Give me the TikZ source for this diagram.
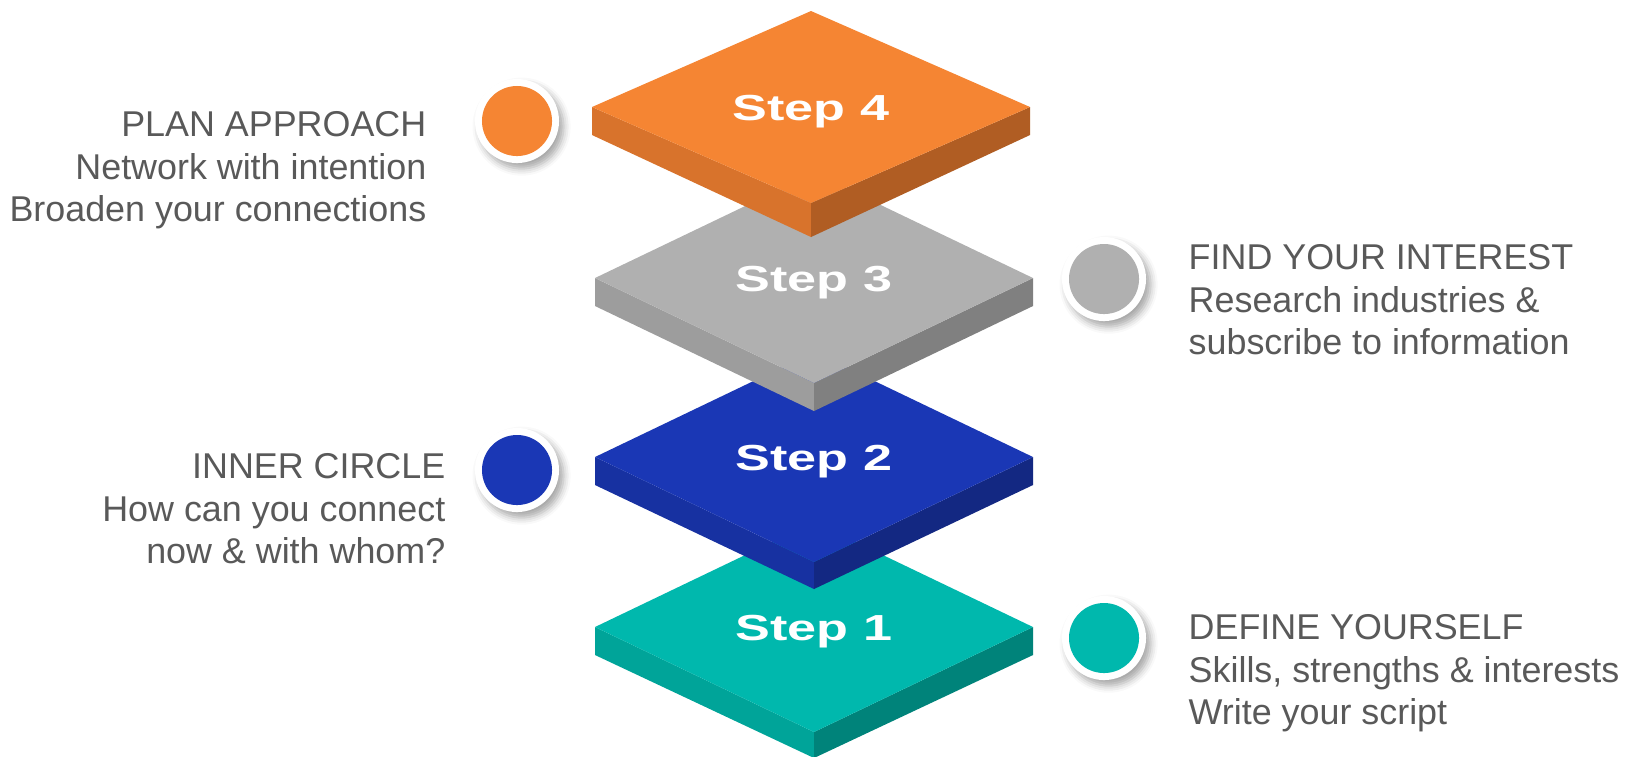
\documentclass[tikz,border=0pt]{standalone}
\usepackage{fontspec}
\setmainfont{Liberation Sans}
\usepackage{graphicx}
\usepackage{xcolor}
\usetikzlibrary{positioning, shadows.blur}

\definecolor{top1}{HTML}{00B8AD}
\definecolor{left1}{HTML}{00A499}
\definecolor{right1}{HTML}{00837A}
\definecolor{top2}{HTML}{1A37B5}
\definecolor{left2}{HTML}{1731A1}
\definecolor{right2}{HTML}{132882}
\definecolor{top3}{HTML}{B0B0B0}
\definecolor{left3}{HTML}{9D9D9D}
\definecolor{right3}{HTML}{808080}
\definecolor{top4}{HTML}{F58533}
\definecolor{left4}{HTML}{D8732C}
\definecolor{right4}{HTML}{B05D23}
\definecolor{textgray}{HTML}{595959}

\tikzset{
    ring/.style={circle, fill=white, minimum size=0.84cm, inner sep=0,
        blur shadow={shadow xshift=1.3pt, shadow yshift=-1.6pt, shadow blur radius=2pt, shadow opacity=35}},
    dot/.style={circle, minimum size=0.7cm, inner sep=0},
    steplabel/.style={text=white, font=\fontsize{10.3}{12}\selectfont\bfseries, inner sep=0, anchor=base},
    infotext/.style={text=textgray, font=\fontsize{10.2}{12.1}\selectfont, inner sep=0}
}

\begin{document}
\begin{tikzpicture}[x=0.01cm, y=-0.01cm]
        \useasboundingbox (0, 0) rectangle (1634, 756);

        \foreach \n/\cx/\cy/\h/\f in {1/814/627/105/26, 2/814/457/105/27, 3/814/278/105/28, 4/811/107/96/34} {
            \fill[left\n] (\cx-219, \cy) -- (\cx, \cy+\h) -- (\cx, \cy+\h+\f) -- (\cx-219, \cy+28) -- cycle;
            \fill[right\n] (\cx+219, \cy) -- (\cx, \cy+\h) -- (\cx, \cy+\h+\f) -- (\cx+219, \cy+28) -- cycle;
            \fill[top\n] (\cx, \cy-\h) -- (\cx+219, \cy) -- (\cx, \cy+\h) -- (\cx-219, \cy) -- cycle;
            \node[steplabel] (step\n) at (\cx, \cy+13) {\scalebox{1.44}[1]{Step \n}};
        }

        \foreach \n/\x/\y in {1/1104/638, 2/517/470, 3/1104/279, 4/517/121} {
            \node[ring] (ring\n) at (\x, \y) {};
            \node[dot, fill=top\n] (dot\n) at (ring\n) {};
        }

        \node[infotext, align=right, anchor=north east] (plan) at (427, 111)
            {PLAN APPROACH\\Network with intention\\Broaden your connections};
        \node[infotext, align=right, anchor=north east] (inner) at (446, 453)
            {INNER CIRCLE\\How can you connect\\now \& with whom?};
        \node[infotext, align=left, anchor=north west] (find) at (1188, 244)
            {FIND YOUR INTEREST\\Research industries \&\\subscribe to information};
        \node[infotext, align=left, anchor=north west] (define) at (1188, 614)
            {DEFINE YOURSELF\\Skills, strengths \& interests\\Write your script};
    \end{tikzpicture}
\end{document}
